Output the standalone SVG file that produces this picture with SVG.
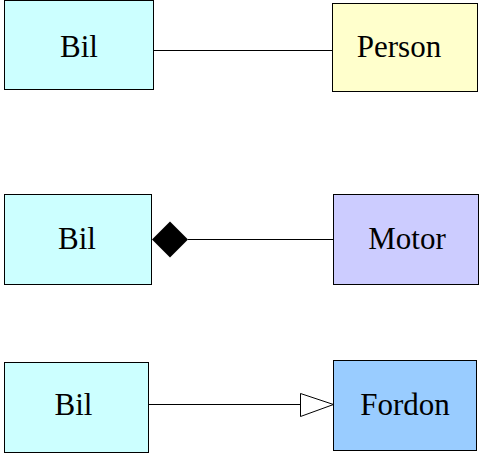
<svg xmlns="http://www.w3.org/2000/svg" width="482" height="453" viewBox="0 0 482 453">
<style>
.box{stroke:#000;stroke-width:1}
.lbl{font-family:'Liberation Serif','Times New Roman',serif;font-size:31px;fill:#000;text-anchor:middle}
.ln{stroke:#000;stroke-width:1;fill:none}
</style>
<rect x="0" y="0" width="482" height="453" fill="#fff"/>
<g id="connectors">
<line class="ln" x1="153.5" y1="50.5" x2="332.5" y2="50.5"/>
<line class="ln" x1="188" y1="239.5" x2="333.5" y2="239.5"/>
<polygon points="152,239.5 170,221.5 188,239.5 170,257.5" fill="#000"/>
<line class="ln" x1="148.5" y1="404.5" x2="300.5" y2="404.5"/>
<polygon points="300.5,393.5 333.5,404.5 300.5,416.5" fill="#fff" stroke="#000" stroke-width="1"/>
</g>
<g id="bil1"><rect class="box" x="4.5" y="0.5" width="149" height="89" fill="#ccffff"/><text class="lbl" x="79" y="57">Bil</text></g>
<g id="person"><rect class="box" x="332.5" y="3.5" width="145" height="88" fill="#ffffcc"/><text class="lbl" x="399" y="57">Person</text></g>
<g id="bil2"><rect class="box" x="4.5" y="194.5" width="147" height="90" fill="#ccffff"/><text class="lbl" x="77" y="249">Bil</text></g>
<g id="motor"><rect class="box" x="333.5" y="194.5" width="145" height="90" fill="#ccccff"/><text class="lbl" x="407" y="249">Motor</text></g>
<g id="bil3"><rect class="box" x="4.5" y="362.5" width="144" height="90" fill="#ccffff"/><text class="lbl" x="73.5" y="415">Bil</text></g>
<g id="fordon"><rect class="box" x="333.5" y="360.5" width="143" height="90" fill="#99ccff"/><text class="lbl" x="405" y="415">Fordon</text></g>
</svg>
